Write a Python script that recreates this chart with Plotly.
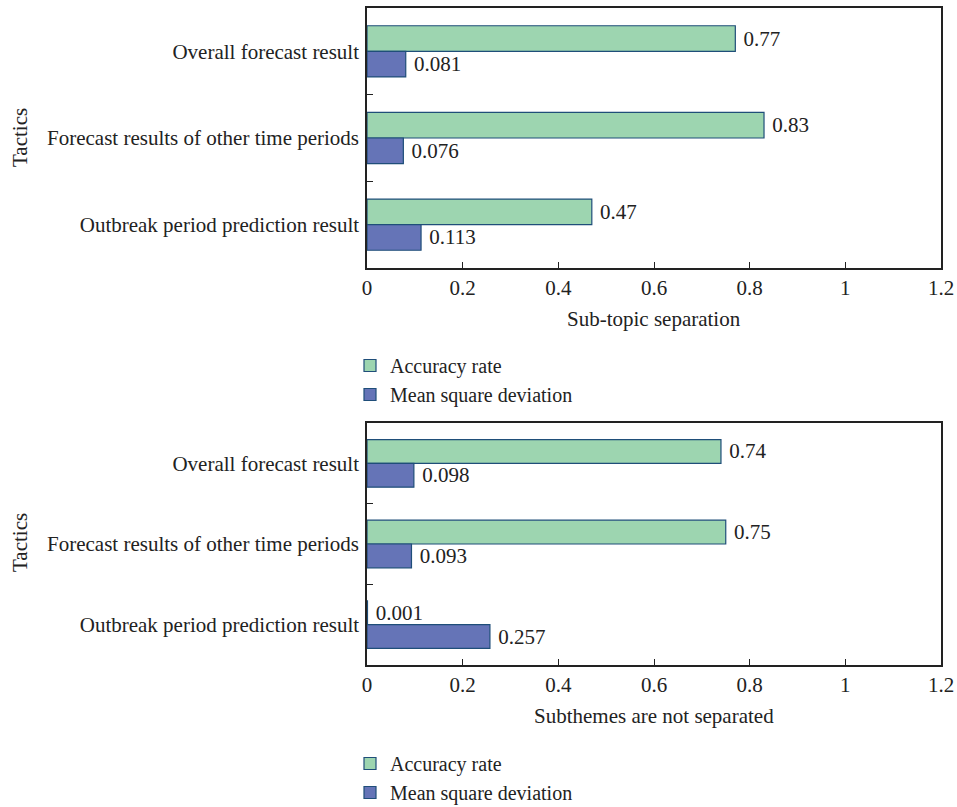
import plotly.graph_objects as go

# Strategy categories, listed top to bottom
tactics = [
    "Overall forecast result",
    "Forecast results of other time periods",
    "Outbreak period prediction result",
]

# Sub-topic separation
sep_accuracy = [0.77, 0.83, 0.47]
sep_msd = [0.081, 0.076, 0.113]

# Subthemes are not separated
nosep_accuracy = [0.74, 0.75, 0.001]
nosep_msd = [0.098, 0.093, 0.257]

x_ticks = [0, 0.2, 0.4, 0.6, 0.8, 1.0, 1.2]
x_tick_text = ["0", "0.2", "0.4", "0.6", "0.8", "1", "1.2"]

FONT = "Liberation Serif"
FS = 21
LEG_FS = 20
TXT = "#222222"
GREEN = "#9dd5b0"
BLUE = "#6574b7"
EDGE = "#1f4e79"
AXIS = "#222222"

W, H = 957, 807


def px_x(v):
    return v / W


def px_y(v):
    return 1 - v / H


fig = go.Figure()


def add_pair(acc, msd, xa, ya, legend):
    for name, vals, color in (("Accuracy rate", acc, GREEN), ("Mean square deviation", msd, BLUE)):
        fig.add_trace(go.Bar(
            name=name,
            y=tactics,
            x=vals,
            orientation="h",
            xaxis=xa,
            yaxis=ya,
            legend=legend,
            marker=dict(color=color, line=dict(color=EDGE, width=1.2)),
            text=["\u00a0" + ("%g" % v) for v in vals],
            textposition="outside",
            textfont=dict(family=FONT, size=FS, color=TXT),
            constraintext="none",
            cliponaxis=False,
        ))


add_pair(sep_accuracy, sep_msd, "x", "y", "legend")
add_pair(nosep_accuracy, nosep_msd, "x2", "y2", "legend2")

xaxis_common = dict(
    range=[0, 1.2],
    tickvals=x_ticks,
    ticktext=x_tick_text,
    ticks="inside",
    ticklen=6,
    tickcolor=AXIS,
    showline=True,
    linecolor=AXIS,
    linewidth=1.5,
    mirror=True,
    showgrid=False,
    zeroline=False,
    tickfont=dict(family=FONT, size=FS, color=TXT),
    automargin=False,
)
yaxis_common = dict(
    type="category",
    autorange="reversed",
    ticks="inside",
    tickson="boundaries",
    ticklen=6,
    tickcolor=AXIS,
    showline=True,
    linecolor=AXIS,
    linewidth=1.5,
    mirror=True,
    showgrid=False,
    tickfont=dict(family=FONT, size=FS, color=TXT),
    ticklabelstandoff=2,
    automargin=False,
)

top_dom = [px_y(268), px_y(8)]
bot_dom = [px_y(665), px_y(423)]
x_dom = [px_x(367), px_x(941)]

legend_common = dict(
    font=dict(family=FONT, size=LEG_FS, color=TXT),
    bgcolor="rgba(0,0,0,0)",
    xanchor="left",
    yanchor="top",
    tracegroupgap=0,
    itemwidth=30,
    traceorder="normal",
)


def label(text, x, y, angle=0):
    return dict(text=text, x=px_x(x), y=px_y(y), xref="paper", yref="paper",
                xanchor="center", yanchor="middle", textangle=angle,
                showarrow=False, font=dict(family=FONT, size=FS, color=TXT))


fig.update_layout(
    width=W,
    height=H,
    margin=dict(l=0, r=0, t=0, b=0, autoexpand=False),
    paper_bgcolor="white",
    plot_bgcolor="white",
    barmode="group",
    bargap=0.41,
    bargroupgap=0,
    showlegend=True,
    xaxis=dict(domain=x_dom, anchor="y", **xaxis_common),
    yaxis=dict(domain=top_dom, anchor="x", **yaxis_common),
    xaxis2=dict(domain=x_dom, anchor="y2", **xaxis_common),
    yaxis2=dict(domain=bot_dom, anchor="x2", **yaxis_common),
    legend=dict(x=px_x(350), y=px_y(346), **legend_common),
    legend2=dict(x=px_x(350), y=px_y(744), **legend_common),
    annotations=[
        label("Tactics", 20, 138, -90),
        label("Tactics", 20, 543, -90),
        label("Sub-topic separation", 654, 319),
        label("Subthemes are not separated", 654, 716),
    ],
)

fig.write_html("out.html")
